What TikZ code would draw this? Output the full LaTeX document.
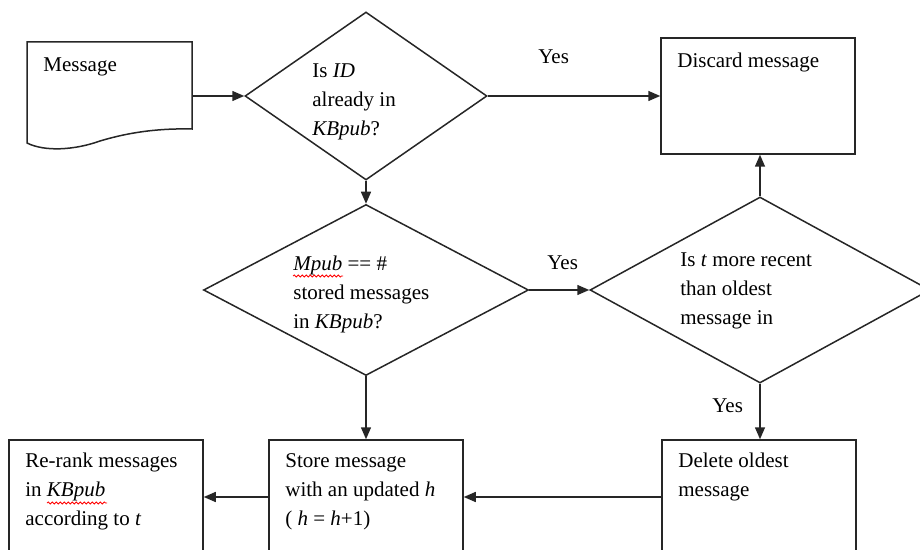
\documentclass[tikz,border=0pt]{standalone}
\usepackage{fontspec}
\setmainfont{Liberation Serif}
\usetikzlibrary{shapes.geometric,arrows.meta,decorations.pathmorphing}

\begin{document}
\begin{tikzpicture}[x=0.5pt,y=-0.5pt,
  box/.style={draw=black!85,line width=0.75pt,inner sep=0pt,minimum width=97pt,minimum height=57pt},
  decide/.style={draw=black!85,line width=0.75pt,shape=diamond,inner sep=0pt},
  txt/.style={anchor=north west,inner sep=0pt,align=left,font=\fontsize{10.5}{14.5}\selectfont},
  flow/.style={draw=black!85,line width=0.75pt,-{Triangle[length=6pt,width=5pt]}},
  spell/.style={red,line width=0.4pt,decorate,decoration={snake,amplitude=0.5pt,segment length=2pt}}]
\useasboundingbox (0,0) rectangle (920,550);
\clip (0,0) rectangle (920,550);
% incoming message (document shape)
\draw[draw=black!85,line width=0.75pt] (27,42) -- (192,42) -- (192,129)
  .. controls (150,128) and (120,135) .. (100,141)
  .. controls (75,150) and (45,152) .. (27,143) -- cycle;
\coordinate (msgout) at (192,96);
\node[txt] (msg) at (43,57) {Message};
% first test
\node[decide,minimum width=121pt,minimum height=84pt] (dup) at (366,96) {};
\node[txt] (duptxt) at (312,63) {Is \textit{ID}\\already in\\\textit{KBpub}?};
\node[box,minimum height=58pt] (discard) at (758,96) {};
\node[txt] (discardtxt) at (677,53) {Discard message};
% second test
\node[decide,minimum width=162.5pt,minimum height=85.5pt] (full) at (366,290) {};
\node[txt] (fulltxt) at (293,256) {\textit{Mpub} == \#\\stored messages\\in \textit{KBpub}?};
\node[decide,minimum width=170pt,minimum height=93pt] (recent) at (760,290) {};
\node[txt] (recenttxt) at (680,252) {Is \textit{t} more recent\\than oldest\\message in};
% actions
\node[box] (delete) at (759,497) {};
\node[txt] (deletetxt) at (678,453) {Delete oldest\\message};
\node[box] (store) at (366,497) {};
\node[txt] (storetxt) at (285,453) {Store message\\with an updated \textit{h}\\( \textit{h} = \textit{h}+1)};
\node[box] (rerank) at (106,497) {};
\node[txt] (reranktxt) at (25,453) {Re-rank messages\\in \textit{KBpub}\\according to \textit{t}};
% answers
\node[txt] (yesdup) at (538,49) {Yes};
\node[txt] (yesfull) at (547,255) {Yes};
\node[txt] (yesrecent) at (712,398) {Yes};
% spell check marks
\draw[spell] (293,276) -- (343,276);
\draw[spell] (47,503) -- (107,503);
% connectors
\draw[flow] (msgout) -- (dup.west);
\draw[flow] (dup.east) -- (discard.west);
\draw[flow] (dup.south) -- (full.north);
\draw[flow] (full.east) -- (recent.west);
\draw[flow] (recent.north) -- (recent.north |- discard.south);
\draw[flow] (recent.south) -- (recent.south |- delete.north);
\draw[flow] (full.south) -- (store.north);
\draw[flow] (delete.west) -- (store.east);
\draw[flow] (store.west) -- (rerank.east);
\end{tikzpicture}
\end{document}
